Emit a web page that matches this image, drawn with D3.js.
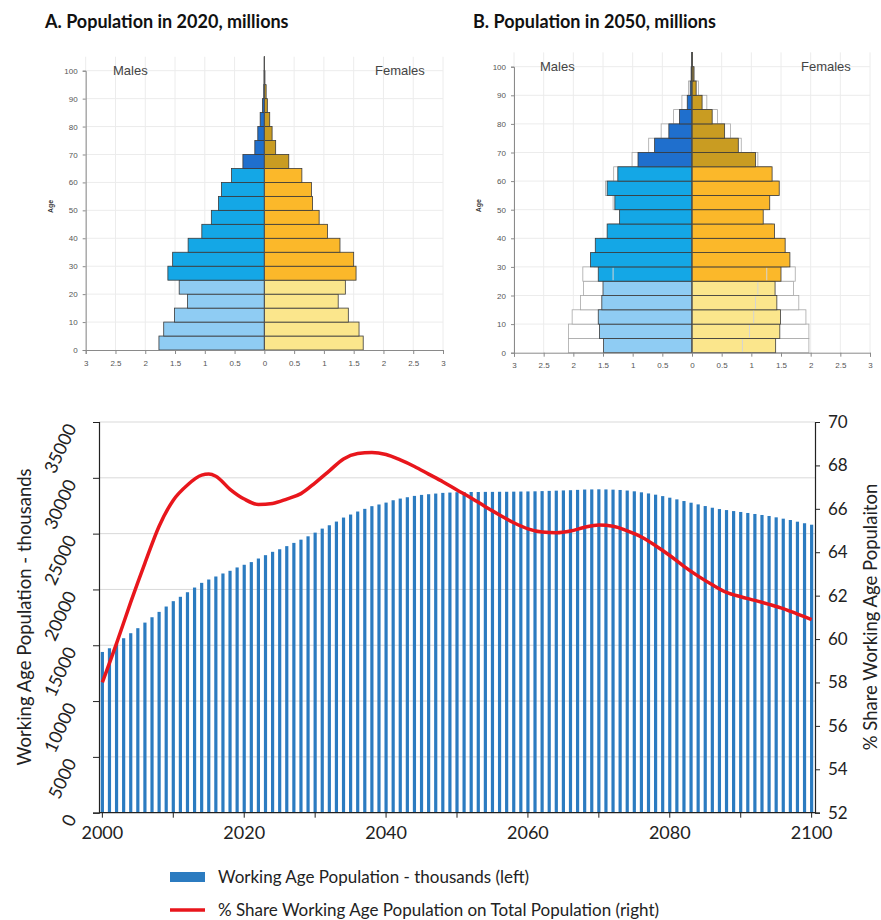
<!DOCTYPE html>
<html>
<head>
<meta charset="utf-8">
<script src="https://cdn.jsdelivr.net/npm/d3@7/dist/d3.min.js"></script>
<style>
  body { margin: 0; background: #fff; }
  text { font-family: Lato, "Open Sans", sans-serif; }
  .pyr text { font-family: "Liberation Sans", Arial, sans-serif; }
</style>
</head>
<body>
<div id="chart"></div>
<script>
// ---- data: population pyramids (millions, 5-year age groups 0-4 ... 100+)
const ageStarts = [0,5,10,15,20,25,30,35,40,45,50,55,60,65,70,75,80,85,90,95,100];
const male2020   = [1.77,1.69,1.51,1.29,1.43,1.62,1.54,1.28,1.05,0.89,0.77,0.72,0.55,0.36,0.16,0.11,0.07,0.03,0.01,0.005,0.002];
const female2020 = [1.66,1.59,1.41,1.24,1.36,1.54,1.50,1.27,1.06,0.92,0.81,0.79,0.63,0.41,0.19,0.13,0.09,0.05,0.03,0.01,0.003];
const male2050   = [1.49,1.56,1.58,1.52,1.50,1.58,1.71,1.63,1.43,1.22,1.30,1.43,1.25,0.91,0.63,0.39,0.21,0.08,0.03,0.01,0.002];
const female2050 = [1.41,1.48,1.49,1.43,1.40,1.50,1.65,1.57,1.39,1.20,1.31,1.47,1.35,1.07,0.78,0.55,0.34,0.17,0.07,0.03,0.005];
// comparison variant drawn as white outlined bars behind 2050
const maleAlt2050   = [2.08,2.08,2.02,1.88,1.83,1.84,1.65,1.55,1.40,1.20,1.33,1.46,1.32,1.01,0.73,0.52,0.31,0.17,0.06,0.02,0.005];
const femaleAlt2050 = [1.97,1.97,1.92,1.80,1.71,1.74,1.60,1.50,1.35,1.15,1.28,1.45,1.33,1.11,0.83,0.65,0.43,0.25,0.11,0.04,0.01];
// faint inner lines (lower variant), visible only in the youngest groups
const maleLow2050   = [null,null,null,null,null,1.33];
const femaleLow2050 = [0.85,0.97,1.04,1.07,1.11,1.26];
const pyrTicks = [-3,-2.5,-2,-1.5,-1,-0.5,0,0.5,1,1.5,2,2.5,3];
const ageTicks = [0,10,20,30,40,50,60,70,80,90,100];

// ---- data: working age population (thousands) and share (%)
const years = d3.range(2000, 2101);
const workingAge = [
  14400,14730,15180,15630,16080,16530,17030,17510,17990,18470,
  18950,19340,19750,20170,20590,20890,21160,21430,21670,21970,
  22210,22450,22770,23070,23370,23600,23880,24170,24460,24760,
  25090,25450,25750,26080,26440,26710,26980,27220,27460,27610,
  27780,27990,28140,28260,28380,28470,28530,28590,28650,28680,
  28710,28720,28730,28730,28740,28740,28750,28750,28760,28770,
  28780,28790,28810,28830,28850,28870,28890,28920,28950,28960,
  28970,28960,28940,28910,28860,28790,28700,28600,28490,28360,
  28220,28070,27920,27770,27620,27470,27320,27200,27110,27020,
  26940,26850,26760,26670,26580,26460,26340,26220,26070,25930,
  25800];
const shareYears  = [2000,2002,2004,2006,2008,2010,2012,2014,2015,2016,2018,2020,2022,2024,2026,2028,2030,2032,2034,2036,2038,2040,2042,2044,2046,2048,2050,2052,2054,2056,2058,2060,2062,2064,2066,2068,2070,2072,2074,2076,2078,2080,2082,2084,2086,2088,2090,2092,2094,2096,2098,2100];
const shareValues = [58.0,59.8,61.7,63.5,65.2,66.4,67.1,67.55,67.6,67.5,66.9,66.45,66.2,66.25,66.45,66.7,67.2,67.75,68.3,68.55,68.6,68.5,68.25,67.95,67.6,67.25,66.87,66.5,66.1,65.72,65.36,65.08,64.93,64.9,64.98,65.15,65.25,65.2,64.98,64.7,64.3,63.85,63.35,62.9,62.5,62.15,61.95,61.78,61.6,61.4,61.15,60.9];
const leftTicks  = [0,5000,10000,15000,20000,25000,30000,35000];
const rightTicks = [52,54,56,58,60,62,64,66,68,70];
const yearTicks  = [2000,2010,2020,2030,2040,2050,2060,2070,2080,2090,2100];
const yearLabels = [2000,2020,2040,2060,2080,2100];

const width = 881, height = 920;
const svg = d3.select("#chart").append("svg")
  .attr("width", width).attr("height", height);

// colours for the three age bands
function barColor(sex, age) {
  if (age < 25) return sex === "m" ? "#8fccf3" : "#fbe68c";
  if (age < 65) return sex === "m" ? "#14a7e6" : "#fbb82a";
  return sex === "m" ? "#1f6fcd" : "#c99c22";
}

function drawPyramid(p) {
  const g = svg.append("g").attr("class", "pyr");
  const x = d3.scaleLinear().domain([-3, 3]).range([p.x0, p.x1]);
  const y = d3.scaleLinear().domain([0, 100]).range([p.yb, p.yt]);

  // grid
  g.selectAll(".vg").data(pyrTicks).enter().append("line")
    .attr("x1", d => x(d)).attr("x2", d => x(d))
    .attr("y1", y(0)).attr("y2", y(105))
    .attr("stroke", "#ececec");
  g.selectAll(".hg").data(ageTicks.slice(1)).enter().append("line")
    .attr("x1", x(-3)).attr("x2", x(3))
    .attr("y1", d => y(d)).attr("y2", d => y(d))
    .attr("stroke", "#ececec");

  // comparison outlines
  if (p.maleAlt) {
    g.selectAll(".am").data(ageStarts).enter().append("rect")
      .attr("x", (d, i) => x(-p.maleAlt[i])).attr("y", d => y(d + 5))
      .attr("width", (d, i) => x(0) - x(-p.maleAlt[i])).attr("height", d => y(d) - y(d + 5))
      .attr("fill", "#fff").attr("stroke", "#a8a8a8").attr("stroke-width", 0.8);
    g.selectAll(".af").data(ageStarts).enter().append("rect")
      .attr("x", x(0)).attr("y", d => y(d + 5))
      .attr("width", (d, i) => x(p.femaleAlt[i]) - x(0)).attr("height", d => y(d) - y(d + 5))
      .attr("fill", "#fff").attr("stroke", "#a8a8a8").attr("stroke-width", 0.8);
  }

  // bars
  g.selectAll(".bm").data(ageStarts).enter().append("rect")
    .attr("x", (d, i) => x(-p.male[i])).attr("y", d => y(d + 5))
    .attr("width", (d, i) => x(0) - x(-p.male[i])).attr("height", d => y(d) - y(d + 5))
    .attr("fill", d => barColor("m", d)).attr("stroke", "#3a3a3a").attr("stroke-width", 0.8);
  g.selectAll(".bf").data(ageStarts).enter().append("rect")
    .attr("x", x(0)).attr("y", d => y(d + 5))
    .attr("width", (d, i) => x(p.female[i]) - x(0)).attr("height", d => y(d) - y(d + 5))
    .attr("fill", d => barColor("f", d)).attr("stroke", "#3a3a3a").attr("stroke-width", 0.8);

  // faint inner lines
  if (p.maleLow) {
    const low = [];
    p.maleLow.forEach((v, i) => { if (v != null) low.push({a: ageStarts[i], v: -v}); });
    p.femaleLow.forEach((v, i) => { if (v != null) low.push({a: ageStarts[i], v: v}); });
    g.selectAll(".lw").data(low).enter().append("line")
      .attr("x1", d => x(d.v)).attr("x2", d => x(d.v))
      .attr("y1", d => y(d.a) - 1).attr("y2", d => y(d.a + 5) + 1)
      .attr("stroke", "#d4d4d4").attr("stroke-width", 1);
  }

  // centre line
  g.append("line").attr("x1", x(0)).attr("x2", x(0))
    .attr("y1", y(0)).attr("y2", y(105)).attr("stroke", "#555").attr("stroke-width", 1);

  // axes
  const xa = g.append("g").attr("transform", `translate(0,${y(0)})`)
    .call(d3.axisBottom(x).tickValues(pyrTicks).tickSize(4)
      .tickFormat(d => d3.format("")(Math.abs(d))));
  const ya = g.append("g").attr("transform", `translate(${x(-3)},0)`)
    .call(d3.axisLeft(y).tickValues(ageTicks).tickSize(3));
  [xa, ya].forEach(a => {
    a.select(".domain").attr("stroke", "#8a8a8a");
    a.selectAll(".tick line").attr("stroke", "#8a8a8a");
    a.selectAll("text").attr("fill", "#555").style("font-size", "8px");
  });
  xa.selectAll("text").attr("dy", "1.1em");
  ya.selectAll("text").attr("x", -8);

  g.append("text").attr("transform", `translate(${p.ageX},${(y(0) + y(100)) / 2 - 4}) rotate(-90)`)
    .attr("text-anchor", "middle").style("font-size", "7px").style("font-weight", "bold")
    .attr("fill", "#333").text("Age");
  g.append("text").attr("x", p.malesX).attr("y", p.labelY)
    .style("font-size", "13px").attr("fill", "#444").text("Males");
  g.append("text").attr("x", p.femalesX).attr("y", p.labelY)
    .style("font-size", "13px").attr("fill", "#444").text("Females");

  svg.append("text").attr("x", p.titleX).attr("y", 28)
    .style("font-size", "18px").style("font-weight", "bold").attr("fill", "#111")
    .text(p.title);
}

drawPyramid({x0: 85.7, x1: 443, yb: 350, yt: 70.7, male: male2020, female: female2020,
  title: "A. Population in 2020, millions", titleX: 45, ageX: 53, malesX: 113, femalesX: 375, labelY: 75});
drawPyramid({x0: 514, x1: 870, yb: 352.7, yt: 66.7, male: male2050, female: female2050,
  maleAlt: maleAlt2050, femaleAlt: femaleAlt2050, maleLow: maleLow2050, femaleLow: femaleLow2050,
  title: "B. Population in 2050, millions", titleX: 473, ageX: 481, malesX: 540, femalesX: 801, labelY: 71});

// ---- bottom combo chart
const margin = {top: 422, left: 99, right: 815, bottom: 812.7};

const xScale = d3.scaleBand().domain(years).range([margin.left, margin.right]).paddingInner(0.55).paddingOuter(0.25);
const yLeft = d3.scaleLinear().domain([0, 35000]).range([margin.bottom, margin.top]);
const yRight = d3.scaleLinear().domain([52, 70]).range([margin.bottom, margin.top]);
const xc = d => xScale(d) + xScale.bandwidth() / 2;

// gridlines
svg.selectAll(".grid").data(leftTicks.slice(1)).enter().append("line")
  .attr("x1", margin.left).attr("x2", margin.right)
  .attr("y1", d => yLeft(d)).attr("y2", d => yLeft(d))
  .attr("stroke", "#d9d9d9").attr("stroke-width", 1);

// bars
svg.selectAll(".bar").data(years).enter().append("rect")
  .attr("x", d => xScale(d)).attr("width", xScale.bandwidth())
  .attr("y", (d, i) => yLeft(workingAge[i]))
  .attr("height", (d, i) => yLeft(0) - yLeft(workingAge[i]))
  .attr("fill", "#2b7bc0");

// share line
const line = d3.line().curve(d3.curveMonotoneX)
  .x((d, i) => xc(shareYears[i])).y(d => yRight(d));
svg.append("path").datum(shareValues).attr("d", line)
  .attr("fill", "none").attr("stroke", "#e8161c").attr("stroke-width", 3.5)
  .attr("stroke-linejoin", "round");

// axes
const axL = svg.append("g").attr("transform", `translate(${margin.left},0)`)
  .call(d3.axisLeft(yLeft).tickValues(leftTicks).tickSize(6).tickFormat(d3.format("d")));
axL.selectAll("text")
  .attr("x", null).attr("dy", null)
  .attr("text-anchor", "end")
  .attr("transform", "translate(-22,5) rotate(-65)");

const axR = svg.append("g").attr("transform", `translate(${margin.right},0)`)
  .call(d3.axisRight(yRight).tickValues(rightTicks).tickSize(5));
axR.selectAll("text").attr("x", 13);

const axB = svg.append("g").attr("transform", `translate(0,${margin.bottom})`)
  .call(d3.axisBottom(xScale).tickValues(yearTicks).tickSize(5)
    .tickFormat(d => yearLabels.includes(d) ? d : ""));
axB.selectAll("text").attr("y", 14);

[axL, axR, axB].forEach(a => {
  a.select(".domain").attr("stroke", "#222").attr("stroke-width", 1.2);
  a.selectAll(".tick line").attr("stroke", "#222");
  a.selectAll("text").attr("fill", "#222").style("font-size", "17px");
});
axL.selectAll("text").style("font-size", "18px");
axB.selectAll("text").style("font-size", "18px");
axB.select(".domain").attr("d", `M${margin.left},0H${margin.right}`);

// axis titles
svg.append("text").attr("transform", "translate(31,617) rotate(-90)")
  .attr("text-anchor", "middle").style("font-size", "18.5px").attr("fill", "#222")
  .text("Working Age Population - thousands");
svg.append("text").attr("transform", "translate(877,617) rotate(-90)")
  .attr("text-anchor", "middle").style("font-size", "18.5px").attr("fill", "#222")
  .text("% Share Working Age Populaiton");

// legend
svg.append("rect").attr("x", 170).attr("y", 872).attr("width", 35).attr("height", 10).attr("fill", "#2b7bc0");
svg.append("text").attr("x", 218).attr("y", 883).style("font-size", "17px").attr("fill", "#222")
  .text("Working Age Population - thousands (left)");
svg.append("line").attr("x1", 170).attr("x2", 205).attr("y1", 910).attr("y2", 910)
  .attr("stroke", "#e8161c").attr("stroke-width", 3.5);
svg.append("text").attr("x", 218).attr("y", 916).style("font-size", "17px").attr("fill", "#222")
  .text("% Share Working Age Population on Total Population (right)");
</script>
</body>
</html>
